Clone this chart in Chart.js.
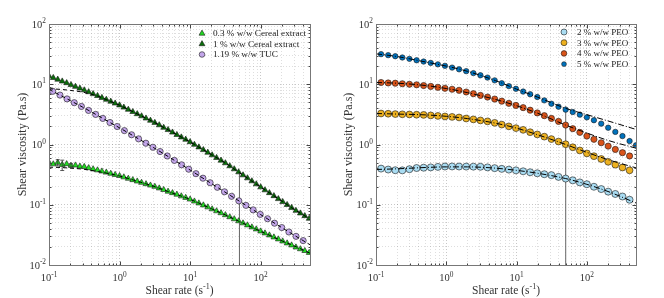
<!DOCTYPE html>
<html>
<head>
<meta charset="utf-8">
<script src="https://cdn.jsdelivr.net/npm/chart.js@4.4.1/dist/chart.umd.min.js"></script>
<style>
  html, body { margin: 0; padding: 0; background: #fff; }
  #wrap { position: relative; width: 664px; height: 298px; }
  canvas { position: absolute; top: 0; }
</style>
</head>
<body>
<div id="wrap">
  <canvas id="left" width="332" height="298" style="left:0;width:332px;height:298px"></canvas>
  <canvas id="right" width="332" height="298" style="left:332px;width:332px;height:298px"></canvas>
</div>
<script>
const SERIF = "'Liberation Serif', 'Times New Roman', serif";

// ---------- left panel: cereal extract + TUC ----------
const cerealRate = [0.1, 0.115, 0.133, 0.154, 0.178, 0.205, 0.237, 0.274, 0.316, 0.365,
  0.422, 0.487, 0.562, 0.649, 0.75, 0.866, 1, 1.15, 1.33, 1.54,
  1.78, 2.05, 2.37, 2.74, 3.16, 3.65, 4.22, 4.87, 5.62, 6.49,
  7.5, 8.66, 10, 11.5, 13.3, 15.4, 17.8, 20.5, 23.7, 27.4,
  31.6, 36.5, 42.2, 48.7, 56.2, 64.9, 75, 86.6, 100, 115,
  133, 154, 178, 205, 237, 274, 316, 365, 422, 487];
const cereal03 = [0.501, 0.472, 0.500, 0.462, 0.475, 0.447, 0.452, 0.433, 0.427, 0.408,
  0.391, 0.375, 0.359, 0.344, 0.329, 0.315, 0.302, 0.287, 0.272, 0.258,
  0.245, 0.233, 0.221, 0.210, 0.200, 0.188, 0.177, 0.166, 0.157, 0.148,
  0.139, 0.131, 0.123, 0.114, 0.106, 0.0983, 0.0912, 0.0846, 0.0785, 0.0729,
  0.0676, 0.0625, 0.0579, 0.0536, 0.0495, 0.0458, 0.0424, 0.0393, 0.0363, 0.0337,
  0.0312, 0.0289, 0.0268, 0.0248, 0.0230, 0.0213, 0.0197, 0.0184, 0.0172, 0.0160];
const cereal1 = [13.7, 12.8, 12.0, 11.2, 10.5, 9.77, 9.13, 8.54, 7.98, 7.43,
  6.91, 6.43, 5.98, 5.57, 5.18, 4.82, 4.49, 4.13, 3.80, 3.49,
  3.21, 2.96, 2.72, 2.50, 2.30, 2.10, 1.91, 1.75, 1.59, 1.45,
  1.32, 1.21, 1.10, 0.996, 0.901, 0.814, 0.736, 0.666, 0.602, 0.544,
  0.492, 0.439, 0.391, 0.348, 0.310, 0.277, 0.247, 0.220, 0.196, 0.175,
  0.157, 0.140, 0.125, 0.112, 0.0998, 0.0893, 0.0798, 0.0722, 0.0652, 0.0590];
// error bars on the 0.3 % run (index into cerealRate)
const errIdx = [2, 3, 5];
const errLow = [0.44, 0.37, 0.42];
const errHigh = [0.56, 0.55, 0.48];

const tucRate = [0.113, 0.143, 0.18, 0.228, 0.288, 0.363, 0.458, 0.579, 0.731, 0.925,
  1.17, 1.48, 1.86, 2.36, 2.97, 3.75, 4.74, 5.98, 7.57, 9.55,
  12.1, 15.2, 19.2, 24.3, 30.7, 38.7, 49, 61.8, 78.2, 98.6,
  125, 157, 199, 251, 317, 400];
const tuc = [7.64, 6.61, 5.71, 4.94, 4.28, 3.68, 3.16, 2.71, 2.32, 1.99,
  1.70, 1.45, 1.24, 1.05, 0.90, 0.764, 0.645, 0.545, 0.460, 0.389,
  0.328, 0.276, 0.232, 0.195, 0.164, 0.138, 0.116, 0.0977, 0.0822, 0.0692,
  0.0586, 0.0494, 0.0418, 0.0353, 0.0299, 0.0254];

// model fits (dashed)
const fitRate = [0.1, 0.15, 0.2, 0.3, 0.5, 0.7, 1, 2, 3, 5, 10, 20, 30, 50, 100, 200, 300, 500];
const fit03 = [0.42, 0.415, 0.405, 0.39, 0.355, 0.33, 0.30, 0.236, 0.204, 0.164, 0.123, 0.086, 0.0697, 0.0527, 0.0363, 0.0252, 0.0207, 0.0157];
const fit1 = [8.4, 8.2, 7.9, 7.4, 6.3, 5.35, 4.49, 3.01, 2.38, 1.72, 1.10, 0.68, 0.513, 0.340, 0.196, 0.115, 0.0835, 0.058];
const fitTuc = [8.24, 6.41, 5.36, 4.17, 2.99, 2.39, 1.89, 1.18, 0.895, 0.621, 0.377, 0.225, 0.167, 0.1145, 0.0686, 0.0416, 0.0311, 0.0217];

// ---------- right panel: PEO ----------
const peoRate = [0.118, 0.149, 0.188, 0.237, 0.299, 0.378, 0.476, 0.601, 0.759, 0.957,
  1.21, 1.52, 1.92, 2.43, 3.06, 3.86, 4.88, 6.15, 7.76, 9.79,
  12.4, 15.6, 19.7, 24.8, 31.3, 39.5, 49.9, 63.0, 79.4, 100,
  126, 160, 201, 254, 321, 405, 500];
const peo2 = [0.398, 0.384, 0.374, 0.372, 0.389, 0.407, 0.412, 0.417, 0.425, 0.431,
  0.432, 0.431, 0.430, 0.429, 0.427, 0.417, 0.405, 0.394, 0.383, 0.372,
  0.359, 0.346, 0.333, 0.321, 0.310, 0.290, 0.272, 0.254, 0.235, 0.219,
  0.199, 0.182, 0.165, 0.151, 0.137, 0.121];
const peo3 = [3.27, 3.24, 3.20, 3.17, 3.15, 3.12, 3.10, 3.04, 2.98, 2.92,
  2.87, 2.81, 2.70, 2.61, 2.51, 2.42, 2.29, 2.14, 2.00, 1.87,
  1.75, 1.60, 1.47, 1.35, 1.23, 1.12, 1.01, 0.90, 0.796, 0.711,
  0.640, 0.575, 0.516, 0.462, 0.415, 0.372];
const peo4 = [10.7, 10.5, 10.4, 10.2, 10.0, 9.79, 9.52, 9.21, 8.89, 8.57,
  8.26, 7.93, 7.43, 6.97, 6.53, 6.12, 5.68, 5.24, 4.82, 4.45,
  4.09, 3.71, 3.34, 3.01, 2.71, 2.42, 2.10, 1.83, 1.59, 1.38,
  1.22, 1.07, 0.94, 0.828, 0.731, 0.645];
const peo5 = [31.6, 30.4, 29.2, 27.8, 26.4, 25.0, 23.8, 22.6, 21.4, 20.2,
  18.9, 17.7, 16.5, 15.3, 14.1, 12.9, 11.6, 10.4, 9.31, 8.40,
  7.56, 6.83, 6.14, 5.40, 4.75, 4.24, 3.79, 3.46, 3.13, 2.82,
  2.53, 2.22, 1.90, 1.62, 1.38, 1.14, 0.97];

// model fits (dash-dot)
const peoFitRate = [0.1, 0.2, 0.5, 1, 2, 5, 10, 20, 50, 100, 200, 500];
const peoFit2 = [0.385, 0.395, 0.415, 0.425, 0.425, 0.405, 0.372, 0.333, 0.272, 0.218, 0.166, 0.107];
const peoFit3 = [3.27, 3.2, 3.1, 2.94, 2.69, 2.26, 1.87, 1.45, 1.0, 0.74, 0.56, 0.41];
const peoFit4 = [10.7, 10.4, 9.55, 8.5, 7.25, 5.6, 4.4, 3.3, 2.1, 1.55, 1.17, 0.87];
const peoFit5 = [32.0, 28.8, 23.5, 20.0, 16.4, 11.5, 8.3, 6.1, 3.98, 3.13, 2.46, 1.78];

// vertical marker at 50 s^-1
const markRate = [50, 50];
const markLeft = [0.01, 0.33];
const markRight = [0.01, 4.3];

// axes
const xDecades = [0.1, 1, 10, 100];
const xDecadeExp = ['-1', '0', '1', '2'];
const yDecades = [0.01, 0.1, 1, 10, 100];
const yDecadeExp = ['-2', '-1', '0', '1', '2'];

const pts = (xs, ys) => ys.map((y, i) => ({x: xs[i], y}));

function logTicks(decades, max) {
  const out = [];
  decades.forEach(d => {
    for (let m = 1; m <= 9; m++) {
      const v = +(d * m).toPrecision(6);
      if (v <= max * 1.0001) out.push(v);
    }
  });
  return out;
}
const isDecade = v => Math.abs(Math.log10(v) - Math.round(Math.log10(v))) < 1e-6;

function markerSet(label, xs, ys, style, fill, r) {
  return {
    label, data: pts(xs, ys), showLine: false,
    pointStyle: style, pointRadius: r,
    pointBackgroundColor: fill, pointBorderColor: '#1a1a1a', pointBorderWidth: 0.6,
  };
}
function fitSet(xs, ys, dash) {
  return {
    data: pts(xs, ys), showLine: true, borderColor: '#000', borderWidth: 1,
    borderDash: dash, pointRadius: 0, cubicInterpolationMode: 'monotone', fill: false,
  };
}
function markSet(ys) {
  return { data: pts(markRate, ys), showLine: true, borderColor: '#666', borderWidth: 1, pointRadius: 0 };
}

function drawMarker(ctx, style, x, y, r, fill) {
  ctx.beginPath();
  if (style === 'triangle') {
    for (let i = 0; i < 3; i++) {
      const a = i * 2 * Math.PI / 3;
      const px = x + Math.sin(a) * r, py = y - Math.cos(a) * r;
      if (i) ctx.lineTo(px, py); else ctx.moveTo(px, py);
    }
    ctx.closePath();
  } else {
    ctx.arc(x, y, r, 0, 2 * Math.PI);
  }
  ctx.fillStyle = fill;
  ctx.fill();
  ctx.lineWidth = 0.6;
  ctx.strokeStyle = '#1a1a1a';
  ctx.stroke();
}

// draws text runs, some as superscripts
function drawRich(ctx, parts, x, y, align, size) {
  const widths = parts.map(p => {
    ctx.font = (p.sup ? size * 0.7 : size) + 'px ' + SERIF;
    return ctx.measureText(p.t).width;
  });
  const total = widths.reduce((a, b) => a + b, 0);
  let cx = align === 'center' ? x - total / 2 : (align === 'right' ? x - total : x);
  ctx.textAlign = 'left';
  ctx.textBaseline = 'alphabetic';
  parts.forEach((p, i) => {
    ctx.font = (p.sup ? size * 0.7 : size) + 'px ' + SERIF;
    ctx.fillText(p.t, cx, p.sup ? y - size * 0.42 : y);
    cx += widths[i];
  });
}

function framePlugin(p) {
  return {
    id: 'frame',
    afterDatasetsDraw(chart) {
      if (!p.errors) return;
      const {ctx, scales: {x, y}} = chart;
      const e = p.errors;
      ctx.save();
      ctx.strokeStyle = '#333';
      ctx.lineWidth = 0.8;
      e.idx.forEach((k, j) => {
        const px = x.getPixelForValue(e.rate[k]);
        const lo = y.getPixelForValue(e.low[j]);
        const hi = y.getPixelForValue(e.high[j]);
        ctx.beginPath();
        ctx.moveTo(px, lo); ctx.lineTo(px, hi);
        ctx.moveTo(px - 2, lo); ctx.lineTo(px + 2, lo);
        ctx.moveTo(px - 2, hi); ctx.lineTo(px + 2, hi);
        ctx.stroke();
      });
      ctx.restore();
    },
    afterDraw(chart) {
      const {ctx, chartArea: a, scales: {x, y}} = chart;
      const L = Math.floor(a.left) + 0.5, R = Math.floor(a.right) + 0.5;
      const T = Math.floor(a.top) + 0.5, B = Math.floor(a.bottom) + 0.5;
      ctx.save();
      // inward tick marks on all four sides
      ctx.strokeStyle = '#444';
      ctx.lineWidth = 1;
      ctx.beginPath();
      x.ticks.forEach(t => {
        const px = Math.round(x.getPixelForValue(t.value)) + 0.5;
        const len = isDecade(t.value) ? 4 : 2;
        ctx.moveTo(px, B); ctx.lineTo(px, B - len);
        ctx.moveTo(px, T); ctx.lineTo(px, T + len);
      });
      y.ticks.forEach(t => {
        const py = Math.round(y.getPixelForValue(t.value)) + 0.5;
        const len = isDecade(t.value) ? 4 : 2;
        ctx.moveTo(L, py); ctx.lineTo(L + len, py);
        ctx.moveTo(R, py); ctx.lineTo(R - len, py);
      });
      ctx.stroke();
      // box
      ctx.strokeStyle = '#777';
      ctx.strokeRect(L, T, R - L, B - T);

      // decade labels
      ctx.fillStyle = '#333';
      xDecades.forEach((v, i) => {
        drawRich(ctx, [{t: '10'}, {t: xDecadeExp[i], sup: true}], x.getPixelForValue(v), a.bottom + 16, 'center', 10.5);
      });
      yDecades.forEach((v, i) => {
        drawRich(ctx, [{t: '10'}, {t: yDecadeExp[i], sup: true}], a.left - 3, y.getPixelForValue(v) + 3.5, 'right', 10.5);
      });

      // axis titles
      drawRich(ctx, [{t: 'Shear rate (s'}, {t: '-1', sup: true}, {t: ')'}], (a.left + a.right) / 2, 294, 'center', 11.5);
      ctx.save();
      ctx.translate(p.yTitleX, (a.top + a.bottom) / 2);
      ctx.rotate(-Math.PI / 2);
      drawRich(ctx, [{t: 'Shear viscosity (Pa.s)'}], 0, 4, 'center', 12);
      ctx.restore();

      // legend
      p.legend.forEach((it, i) => {
        const ly = p.legendY + i * p.legendStep;
        drawMarker(ctx, it.style, p.legendMarkX, ly, it.r, it.fill);
        ctx.fillStyle = '#222';
        ctx.font = p.legendFont + 'px ' + SERIF;
        ctx.textAlign = 'left';
        ctx.textBaseline = 'middle';
        ctx.fillText(it.label, p.legendTextX, ly + 0.5);
      });
      ctx.restore();
    }
  };
}

function makeChart(id, datasets, padding, p) {
  const axis = (min, max, decades) => ({
    type: 'logarithmic', min, max,
    afterBuildTicks: s => { s.ticks = logTicks(decades, max).map(v => ({value: v})); },
    ticks: { display: false, callback: () => '' },
    grid: {
      drawTicks: false,
      lineWidth: 1,
      color: c => (c.tick && isDecade(c.tick.value)) ? 'rgba(0,0,0,0.22)' : 'rgba(0,0,0,0.13)',
    },
    border: { display: false, dash: [1, 2] },
  });
  return new Chart(document.getElementById(id), {
    type: 'scatter',
    data: { datasets },
    options: {
      responsive: false,
      animation: false,
      events: [],
      layout: { padding },
      scales: { x: axis(0.1, 500, xDecades), y: axis(0.01, 100, yDecades) },
      plugins: { legend: { display: false }, tooltip: { enabled: false } },
    },
    plugins: [framePlugin(p)],
  });
}

const C03 = '#22dc22', C1 = '#0a6f0a', CTUC = '#c3a6ea';
const P2 = '#a9dcf2', P3 = '#edb120', P4 = '#d95319', P5 = '#0072bd';
const DASH = [4, 3], DASHDOT = [6, 2, 1, 2];

makeChart('left', [
  fitSet(fitRate, fit03, DASH),
  fitSet(fitRate, fit1, DASH),
  fitSet(fitRate, fitTuc, DASH),
  markerSet('0.3 % w/w Cereal extract', cerealRate, cereal03, 'triangle', C03, 3.4),
  markerSet('1 % w/w Cereal extract', cerealRate, cereal1, 'triangle', C1, 3.4),
  markerSet('1.19 % w/w TUC', tucRate, tuc, 'circle', CTUC, 3.1),
  markSet(markLeft),
], { left: 49, right: 22, top: 24, bottom: 33 }, {
  yTitleX: 22,
  errors: { rate: cerealRate, idx: errIdx, low: errLow, high: errHigh },
  legendMarkX: 202, legendTextX: 213, legendY: 33.5, legendStep: 10.5, legendFont: 9.2,
  legend: [
    { label: '0.3 % w/w Cereal extract', style: 'triangle', fill: C03, r: 3.4 },
    { label: '1 % w/w Cereal extract', style: 'triangle', fill: C1, r: 3.4 },
    { label: '1.19 % w/w TUC', style: 'circle', fill: CTUC, r: 2.8 },
  ],
});

makeChart('right', [
  fitSet(peoFitRate, peoFit2, DASHDOT),
  fitSet(peoFitRate, peoFit3, DASHDOT),
  fitSet(peoFitRate, peoFit4, DASHDOT),
  fitSet(peoFitRate, peoFit5, DASHDOT),
  markerSet('2 % w/w PEO', peoRate, peo2, 'circle', P2, 3.5),
  markerSet('3 % w/w PEO', peoRate, peo3, 'circle', P3, 3.4),
  markerSet('4 % w/w PEO', peoRate, peo4, 'circle', P4, 3.1),
  markerSet('5 % w/w PEO', peoRate, peo5, 'circle', P5, 2.7),
  markSet(markRight),
], { left: 44, right: 28, top: 24, bottom: 33 }, {
  yTitleX: 16,
  legendMarkX: 232, legendTextX: 245, legendY: 32, legendStep: 10.7, legendFont: 9,
  legend: [
    { label: '2 % w/w PEO', style: 'circle', fill: P2, r: 3.0 },
    { label: '3 % w/w PEO', style: 'circle', fill: P3, r: 3.0 },
    { label: '4 % w/w PEO', style: 'circle', fill: P4, r: 2.8 },
    { label: '5 % w/w PEO', style: 'circle', fill: P5, r: 2.4 },
  ],
});
</script>
</body>
</html>
